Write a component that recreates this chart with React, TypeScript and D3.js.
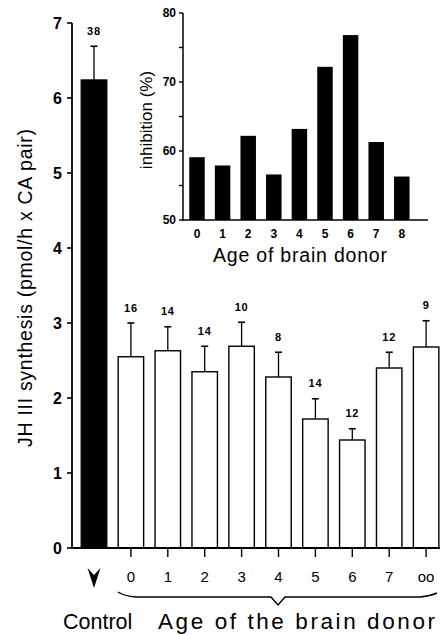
import React from "react";
import * as d3 from "d3";

// Main chart data
const mainCategories = ["Control", "0", "1", "2", "3", "4", "5", "6", "7", "oo"];
const mainValues = [6.24, 2.55, 2.63, 2.35, 2.69, 2.28, 1.72, 1.44, 2.40, 2.68];
const mainErrors = [6.69, 3.0, 2.95, 2.69, 3.01, 2.61, 1.99, 1.59, 2.61, 3.03];
const mainN = ["38", "16", "14", "14", "10", "8", "14", "12", "12", "9"];
const mainYTicks = [0, 1, 2, 3, 4, 5, 6, 7];

// Inset data
const insetCategories = ["0", "1", "2", "3", "4", "5", "6", "7", "8"];
const insetValues = [59.1, 57.9, 62.2, 56.6, 63.2, 72.2, 76.8, 61.3, 56.3];
const insetYTicks = [50, 60, 70, 80];
const insetMinorTicks = [55, 65, 75];

const FONT = "'Liberation Sans', Arial, Helvetica, sans-serif";

export default function App() {
  const W = 440;
  const H = 635;

  // main scales
  const y = d3.scaleLinear().domain([0, 7]).range([548, 23]);
  const x = d3
    .scaleBand<string>()
    .domain(mainCategories)
    .range([75.55, 444.55])
    .paddingInner(0.31)
    .paddingOuter(0.155);
  const axisX = 72;

  // inset scales
  const iy = d3.scaleLinear().domain([50, 80]).range([220, 13]);
  const ix = d3
    .scaleBand<string>()
    .domain(insetCategories)
    .range([184.2, 414.6])
    .paddingInner(0.395)
    .paddingOuter(0.1975);
  const iAxisX = 183;

  const bw = x.bandwidth();

  return (
    <svg
      width={W}
      height={H}
      style={{ position: "absolute", left: 0, top: 0, background: "#fff" }}
      fontFamily={FONT}
    >
      <rect x={0} y={0} width={W} height={H} fill="#fff" />

      {/* Main bars */}
      {mainCategories.map((c, i) => {
        const bx = x(c)!;
        const cx = bx + bw / 2;
        const top = y(mainValues[i]);
        const et = y(mainErrors[i]);
        return (
          <g key={c}>
            <line x1={cx} x2={cx} y1={top} y2={et} stroke="#000" strokeWidth={1.3} />
            <line x1={cx - 3.5} x2={cx + 3.5} y1={et} y2={et} stroke="#000" strokeWidth={1.6} />
            <rect
              x={bx}
              y={top}
              width={bw}
              height={y(0) - top}
              fill={i === 0 ? "#000" : "#fff"}
              stroke="#000"
              strokeWidth={1.4}
            />
            <text
              x={cx}
              y={et - 11.5}
              textAnchor="middle"
              fontSize={11}
              fontWeight="bold"
              letterSpacing={0.8}
            >
              {mainN[i]}
            </text>
          </g>
        );
      })}

      {/* Main axes */}
      <line x1={axisX} x2={axisX} y1={y(7)} y2={y(0) + 1} stroke="#000" strokeWidth={1.8} />
      <line x1={axisX} x2={W} y1={y(0)} y2={y(0)} stroke="#000" strokeWidth={1.8} />
      {mainYTicks.map((t) => (
        <g key={t}>
          <line x1={axisX - 5} x2={axisX} y1={y(t)} y2={y(t)} stroke="#000" strokeWidth={1.6} />
          <text
            x={axisX - 10}
            y={y(t)}
            dy="0.36em"
            textAnchor="end"
            fontSize={16}
            fontWeight="bold"
          >
            {t}
          </text>
        </g>
      ))}
      {mainCategories.slice(1).map((c) => {
        const cx = x(c)! + bw / 2;
        return (
          <g key={"xt" + c}>
            <line x1={cx} x2={cx} y1={y(0)} y2={y(0) + 9} stroke="#000" strokeWidth={1.4} />
            <text x={cx} y={582} textAnchor="middle" fontSize={15}>
              {c}
            </text>
          </g>
        );
      })}

      {/* Control arrow */}
      {(() => {
        const cx = x("Control")! + bw / 2;
        return (
          <path
            d={`M${cx - 6.5},568 L${cx},575 L${cx + 6.5},568 L${cx},588 Z`}
            fill="#000"
          />
        );
      })()}

      {/* Brace */}
      <path
        d="M118,592 Q124,596 136,597 L271,597 L278,605 L285,597 L420,597 Q430,596 437,593"
        fill="none"
        stroke="#000"
        strokeWidth={1.4}
      />

      {/* Bottom labels */}
      <text x={63} y={629} fontSize={21.5}>
        Control
      </text>
      <text x={158} y={629} fontSize={22.5} textLength={277} lengthAdjust="spacing">
        Age of the brain donor
      </text>

      {/* Main Y label */}
      <text
        transform={`translate(32,288) rotate(-90)`}
        textAnchor="middle"
        fontSize={19.5}
        textLength={318}
        lengthAdjust="spacing"
      >
        JH III synthesis (pmol/h x CA pair)
      </text>

      {/* Inset */}
      {insetCategories.map((c, i) => {
        const bx = ix(c)!;
        const top = iy(insetValues[i]);
        return (
          <rect
            key={"ib" + c}
            x={bx}
            y={top}
            width={ix.bandwidth()}
            height={iy(50) - top}
            fill="#000"
          />
        );
      })}
      <line x1={iAxisX} x2={iAxisX} y1={iy(80)} y2={iy(50) + 1} stroke="#000" strokeWidth={1.5} />
      <line x1={iAxisX} x2={428} y1={iy(50)} y2={iy(50)} stroke="#000" strokeWidth={1.5} />
      {insetYTicks.map((t) => (
        <g key={"iyt" + t}>
          <line x1={iAxisX - 4} x2={iAxisX} y1={iy(t)} y2={iy(t)} stroke="#000" strokeWidth={1.4} />
          <text
            x={iAxisX - 7}
            y={iy(t)}
            dy="0.36em"
            textAnchor="end"
            fontSize={12}
            fontWeight="bold"
          >
            {t}
          </text>
        </g>
      ))}
      {insetMinorTicks.map((t) => (
        <line
          key={"imt" + t}
          x1={iAxisX - 4}
          x2={iAxisX}
          y1={iy(t)}
          y2={iy(t)}
          stroke="#000"
          strokeWidth={1.4}
        />
      ))}
      {insetCategories.map((c) => (
        <text
          key={"ixt" + c}
          x={ix(c)! + ix.bandwidth() / 2}
          y={238}
          textAnchor="middle"
          fontSize={12}
          fontWeight="bold"
        >
          {c}
        </text>
      ))}
      <text x={300} y={262} textAnchor="middle" fontSize={19.5} textLength={174} lengthAdjust="spacing">
        Age of brain donor
      </text>
      <text
        transform={`translate(152,120) rotate(-90)`}
        textAnchor="middle"
        fontSize={17}
      >
        inhibition (%)
      </text>
    </svg>
  );
}
